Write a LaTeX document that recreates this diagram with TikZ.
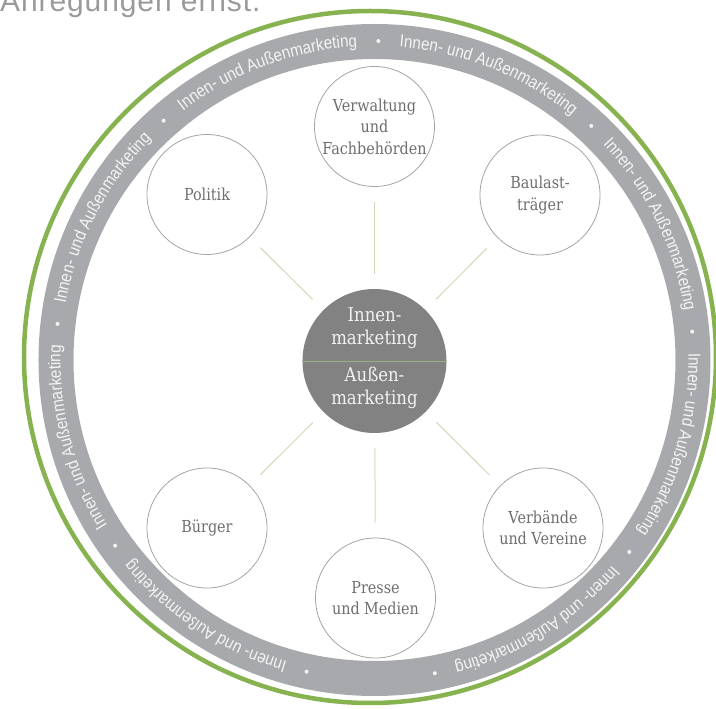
\documentclass[tikz,border=0pt]{standalone}
\usepackage{fontspec}
\newfontfamily\ringfont[FakeStretch=0.87]{Liberation Sans}
\newfontfamily\headfont[LetterSpace=3]{Liberation Sans}
\newfontfamily\labelfont[FakeStretch=0.87]{DejaVu Serif}
\usetikzlibrary{decorations.text}
\definecolor{bandgrey}{HTML}{A7A9AC}
\definecolor{ringgreen}{HTML}{86B24F}
\definecolor{coregrey}{HTML}{828282}
\definecolor{strokegrey}{HTML}{A4A4A4}
\definecolor{labelgrey}{HTML}{6E6E6E}
\definecolor{coretextc}{HTML}{F2F2F2}
\definecolor{linkgreen}{HTML}{CCDBB5}
\definecolor{dividergreen}{HTML}{9DAE86}
\definecolor{ringwhite}{HTML}{F4F4F4}
\definecolor{headgrey}{HTML}{9A9A9A}
\begin{document}
\begin{tikzpicture}[x=1pt,y=1pt,
  actor/.style={circle, draw=strokegrey, line width=0.8pt, fill=white,
    minimum size=120pt, inner sep=0pt, align=center, text=labelgrey,
    font=\labelfont\fontsize{16.5}{21.5}\selectfont},
  core/.style={circle, fill=coregrey, minimum size=144pt, inner sep=0pt},
  coretext/.style={anchor=base, inner sep=0pt, text=coretextc,
    font=\labelfont\fontsize{19}{23}\selectfont},
  link/.style={draw=linkgreen, line width=1pt, shorten >=15pt, shorten <=15pt},
  headline/.style={anchor=base west, inner sep=0pt, text=headgrey,
    font=\headfont\fontsize{30}{36}\selectfont},
  ringtext/.style={decorate, decoration={text along path, text align={center},
    text color=ringwhite,
    text={|\ringfont\fontsize{17.5}{20}\selectfont|Innen- und Außenmarketing}}},
]
\useasboundingbox (-374.5,-348) rectangle (341.5,361);
\clip (-374.5,-348) rectangle (341.5,361);

% cut-off line of preceding text
\node[headline] (head) at (-374.5,349.3) {Anregungen ernst.};

% outer green ring and grey band
\draw[ringgreen, line width=4.5pt] (-4.5,4) circle (346);
\draw[bandgrey, line width=35pt] (0,1) circle (318.5);

% ring text
\foreach \k in {0,...,7}{
  \pgfmathsetmacro\sa{257.7-42.1*\k}
  \pgfmathsetmacro\ea{\sa-42.1}
  \path[ringtext, shift={(0,1)}] (\sa:314) arc[start angle=\sa, end angle=\ea, radius=314];
}
\foreach \k in {0,...,8}{
  \fill[ringwhite, shift={(0,1)}] ({257.7-42.1*\k}:319) circle (2);
}

% centre
\node[core] (core) at (0,0) {};
\draw[dividergreen, line width=0.6pt] (core.west) -- (core.east);
\node[coretext] (t1) at (0,39.3) {Innen-};
\node[coretext] (t2) at (0,16) {marketing};
\node[coretext] (t3) at (0,-20.7) {Außen-};
\node[coretext] (t4) at (0,-44) {marketing};

% actors
\node[actor] (verw) at (0,234.5) {Verwaltung\\und\\Fachbehörden};
\node[actor] (baul) at (165.5,166) {Baulast-\\träger};
\node[actor] (poli) at (-167.5,166.5) {Politik};
\node[actor] (buer) at (-167.5,-167) {Bürger};
\node[actor] (pres) at (1,-237) {Presse\\und Medien};
\node[actor] (verb) at (168.5,-167) {Verbände\\und Vereine};

% connectors
\foreach \n in {verw,baul,poli,buer,pres,verb}{
  \draw[link] (\n) -- (core);
}
\end{tikzpicture}
\end{document}
